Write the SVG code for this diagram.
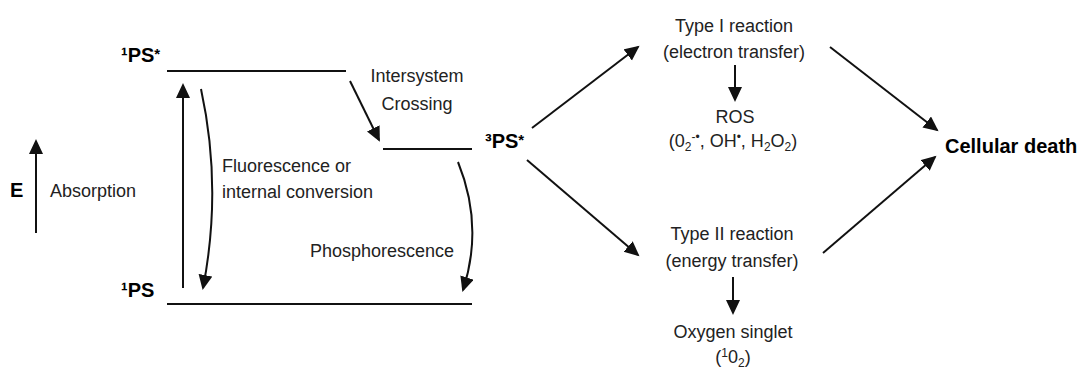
<svg xmlns="http://www.w3.org/2000/svg" width="1085" height="370" viewBox="0 0 1085 370">
<style>
  .t { font-family: "Liberation Sans", Arial, sans-serif; font-size: 18px; fill: #222; }
  .b { font-family: "Liberation Sans", Arial, sans-serif; font-size: 20px; font-weight: bold; fill: #000; }
  .lvl { stroke: #111; stroke-width: 2; fill: none; }
  .arr { stroke: #111; stroke-width: 2; fill: none; marker-end: url(#ah); }
  .s { font-size: 12px; }
  .ast { font-size: 15px; }
</style>
<defs>
  <marker id="ah" markerUnits="userSpaceOnUse" markerWidth="16" markerHeight="15" refX="13" refY="7" orient="auto">
    <path d="M0,0 L15,7 L0,14 z" fill="#111"/>
  </marker>
</defs>
<rect width="1085" height="370" fill="#fff"/>

<g id="energy-axis">
  <text class="b" x="10" y="197">E</text>
  <text class="t" x="50" y="197">Absorption</text>
</g>

<g id="level-1PS-star">
  <text class="b" x="121" y="62">¹PS<tspan class="ast" dy="-3">*</tspan></text>
  <line class="lvl" x1="167" y1="71" x2="346" y2="71"/>
</g>

<g id="level-3PS-star">
  <line class="lvl" x1="383" y1="149" x2="472" y2="149"/>
  <text class="b" x="485" y="148">³PS<tspan class="ast" dy="-3">*</tspan></text>
</g>

<g id="level-1PS">
  <text class="b" x="121" y="297">¹PS</text>
  <line class="lvl" x1="167" y1="304" x2="472" y2="304"/>
</g>

<g id="label-fluorescence">
  <text class="t" x="222" y="172">Fluorescence or</text>
  <text class="t" x="222" y="198">internal conversion</text>
</g>

<g id="label-isc">
  <text class="t" x="417" y="82" text-anchor="middle">Intersystem</text>
  <text class="t" x="417" y="110" text-anchor="middle">Crossing</text>
</g>

<g id="label-phosphorescence">
  <text class="t" x="310" y="257">Phosphorescence</text>
</g>

<g id="type1">
  <text class="t" x="734" y="32" text-anchor="middle">Type I reaction</text>
  <text class="t" x="734" y="58" text-anchor="middle">(electron transfer)</text>
</g>

<g id="ros">
  <text class="t" x="735" y="123" text-anchor="middle">ROS</text>
  <text class="t" x="733" y="147" text-anchor="middle">(0<tspan class="s" dy="4">2</tspan><tspan class="s" dy="-10">-•</tspan><tspan dy="6">, OH</tspan><tspan class="s" dy="-6">•</tspan><tspan dy="6">, H</tspan><tspan class="s" dy="4">2</tspan><tspan dy="-4">O</tspan><tspan class="s" dy="4">2</tspan><tspan dy="-4">)</tspan></text>
</g>

<g id="type2">
  <text class="t" x="732" y="240" text-anchor="middle">Type II reaction</text>
  <text class="t" x="732" y="267" text-anchor="middle">(energy transfer)</text>
</g>

<g id="singlet-oxygen">
  <text class="t" x="733" y="338" text-anchor="middle">Oxygen singlet</text>
  <text class="t" x="733" y="363" text-anchor="middle">(<tspan class="s" dy="-6">1</tspan><tspan dy="6">0</tspan><tspan class="s" dy="4">2</tspan><tspan dy="-4">)</tspan></text>
</g>

<g id="cellular-death">
  <text class="b" x="945" y="153">Cellular death</text>
</g>

<g id="connectors">
  <line class="arr" x1="36" y1="233" x2="36" y2="141"/>
  <line class="arr" x1="183" y1="288" x2="183" y2="85"/>
  <path class="arr" d="M201,89 Q222.5,188 203,288"/>
  <line class="arr" x1="350" y1="81" x2="379" y2="140"/>
  <path class="arr" d="M458,162 Q484,226 463,290"/>
  <line class="arr" x1="532" y1="128" x2="638" y2="47"/>
  <line class="arr" x1="527" y1="160" x2="638" y2="255"/>
  <line class="arr" x1="735" y1="65" x2="735" y2="100"/>
  <line class="arr" x1="733" y1="277" x2="733" y2="313"/>
  <line class="arr" x1="830" y1="47" x2="937" y2="130"/>
  <line class="arr" x1="823" y1="253" x2="935" y2="157"/>
</g>
</svg>
